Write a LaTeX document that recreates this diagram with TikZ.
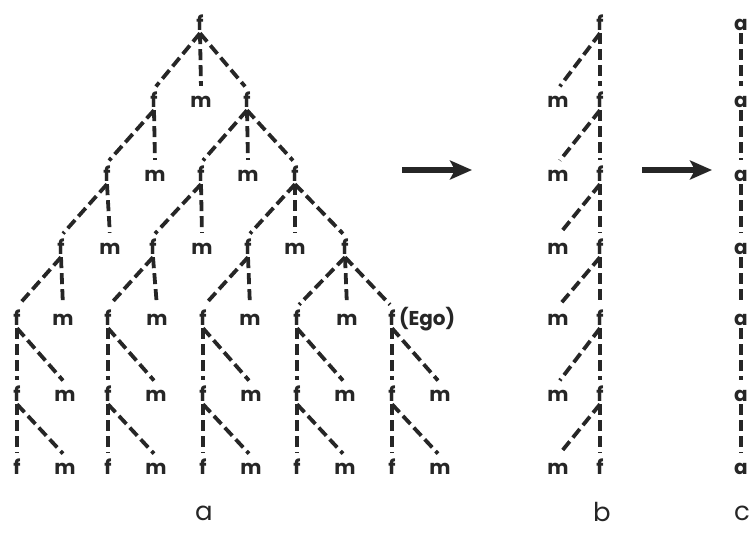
\documentclass[tikz,border=0pt]{standalone}
\usepackage{fontspec}
\setmainfont{Poppins}
\usetikzlibrary{arrows.meta,positioning}
\definecolor{ink}{RGB}{38,38,38}

\begin{document}
\begin{tikzpicture}[x=1pt,y=-1pt,
    kin/.style={font=\fontsize{20}{20}\selectfont\bfseries,text=ink,anchor=base,
      text height=15pt,text depth=0pt,inner xsep=1pt,inner ysep=3pt},
    tie/.style={draw=ink,line width=3.8pt,dash pattern=on 11pt off 5pt,shorten >=3pt},
    panel/.style={font=\fontsize{26}{26}\selectfont,text=ink,inner sep=0pt},
    bigarrow/.style={draw=ink,line width=6pt,-{Stealth[length=22pt,width=19pt,inset=5pt]}}]
  \useasboundingbox (0,0) rectangle (751,533);
  \begin{scope}
    \node[kin] (f0) at (200,30) {f};
    \node[kin] (f1a) at (154,107) {f};
    \node[kin] (m1) at (201,107) {m};
    \node[kin] (f1b) at (247,107) {f};
    \node[kin] (f2a) at (107,181) {f};
    \node[kin] (m2a) at (155,181) {m};
    \node[kin] (f2b) at (201,181) {f};
    \node[kin] (m2b) at (248,181) {m};
    \node[kin] (f2c) at (295,181) {f};
    \node[kin] (f3a) at (61,254) {f};
    \node[kin] (m3a) at (110,254) {m};
    \node[kin] (f3b) at (153,254) {f};
    \node[kin] (m3b) at (202,254) {m};
    \node[kin] (f3c) at (248,254) {f};
    \node[kin] (m3c) at (295,254) {m};
    \node[kin] (f3d) at (345,254) {f};
    \node[kin] (f4a) at (17,325) {f};
    \node[kin] (m4a) at (63,325) {m};
    \node[kin] (f4b) at (108,325) {f};
    \node[kin] (m4b) at (157,325) {m};
    \node[kin] (f4c) at (203,325) {f};
    \node[kin] (m4c) at (250,325) {m};
    \node[kin] (f4d) at (297,325) {f};
    \node[kin] (m4d) at (347,325) {m};
    \node[kin] (f4e) at (392,325) {f};
    \node[kin,right=1pt of f4e] (ego) {(Ego)};
    \foreach \p/\c in {f0/f1a,f0/m1,f0/f1b,f1a/f2a,f1a/m2a,f1b/f2b,f1b/m2b,f1b/f2c,
        f2a/f3a,f2a/m3a,f2b/f3b,f2b/m3b,f2c/f3c,f2c/m3c,f2c/f3d,
        f3a/f4a,f3a/m4a,f3b/f4b,f3b/m4b,f3c/f4c,f3c/m4c,f3d/f4d,f3d/m4d,f3d/f4e}
      \draw[tie] (\p.south) -- (\c.north);
    \foreach \x/\n in {17/a,108/b,203/c,297/d,392/e}{
      \node[kin] (f5\n) at (\x,401) {f};
      \node[kin] (m5\n) at (\x+48,401) {m};
      \node[kin] (f6\n) at (\x,474) {f};
      \node[kin] (m6\n) at (\x+48,474) {m};
      \draw[tie] (f4\n.south) -- (f5\n.north);
      \draw[tie] (f4\n.south) -- (m5\n.north);
      \draw[tie] (f5\n.south) -- (f6\n.north);
      \draw[tie] (f5\n.south) -- (m6\n.north);
    }
    \node[panel] (tagA) at (204,513) {a};
  \end{scope}
  \begin{scope}
    \node[kin] (fb0) at (600,30) {f};
    \foreach \i/\y [remember=\i as \p (initially 0)] in {1/107,2/181,3/254,4/325,5/401,6/474}{
      \node[kin] (mb\i) at (558,\y) {m};
      \node[kin] (fb\i) at (600,\y) {f};
      \draw[tie] (fb\p.south) -- (mb\i.north);
      \draw[tie] (fb\p.south) -- (fb\i.north);
    }
    \node[panel] (tagB) at (602,512) {b};
  \end{scope}
  \begin{scope}
    \node[kin] (c0) at (741,30) {a};
    \foreach \i/\y [remember=\i as \p (initially 0)] in {1/107,2/181,3/254,4/325,5/401,6/474}{
      \node[kin] (c\i) at (741,\y) {a};
      \draw[tie] (c\p.south) -- (c\i.north);
    }
    \node[panel] (tagC) at (742,513) {c};
  \end{scope}
  \coordinate (s1) at (402,170);
  \coordinate (e1) at (472,170);
  \coordinate (s2) at (642,170);
  \coordinate (e2) at (712,170);
  \draw[bigarrow] (s1) -- (e1);
  \draw[bigarrow] (s2) -- (e2);
\end{tikzpicture}
\end{document}
